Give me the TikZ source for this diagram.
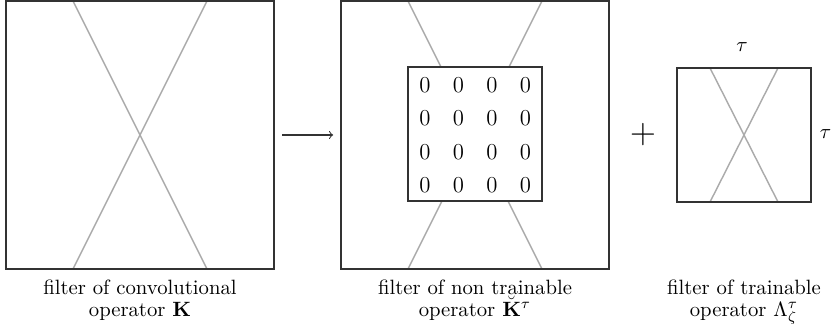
\documentclass[tikz,border=0pt]{standalone}
\usepackage{amsmath,amssymb}
\usetikzlibrary{fit}
\begin{document}
\begin{tikzpicture}[x=0.4831pt,y=-0.4831pt,
  boxnode/.style={draw=black!80,line width=0.6pt,inner sep=0pt,outer sep=0pt},
  xline/.style={draw=black!33,line width=0.7pt},
  zero/.style={inner sep=0pt,font=\fontsize{11pt}{13pt}\selectfont},
  caption/.style={align=center,inner sep=0pt,anchor=north,font=\fontsize{10pt}{10.4pt}\selectfont}]
\useasboundingbox (0,0) rectangle (832,328);
% box 1
\draw[xline] (73,1) -- (207,269);
\draw[xline] (207,1) -- (73,269);
\node[boxnode,fit={(6,1) (274,269)}] (K) {};
% box 2
\draw[xline] (408,1) -- (542,269);
\draw[xline] (542,1) -- (408,269);
\node[boxnode,fit={(341,1) (609,269)}] (Kb) {};
\node[boxnode,fill=white,fit={(408,67) (542,201)}] (Z) {};
\foreach \r/\yy in {1/85,2/118.5,3/152,4/185.5}{
  \foreach \c/\xx in {1/425,2/458.5,3/492,4/525.5}{
    \node[zero] (z\r\c) at (\xx,\yy) {0};
  }
}
% arrow
\draw[->,line width=0.5pt,draw=black!80,shorten <=4pt,shorten >=3.8pt] (K.east) -- (Kb.west);
% plus
\node[inner sep=0pt,font=\LARGE] (plus) at (643,134.5) {$+$};
% box 3
\draw[xline] (710,68) -- (778,202);
\draw[xline] (778,68) -- (710,202);
\node[boxnode,fit={(677,68) (811,202)}] (L) {};
\node[inner sep=0pt] (tautop) at (742,47) {$\tau$};
\node[inner sep=0pt] (tauright) at (825.5,134) {$\tau$};
% captions
\node[caption] (c1) at (140,279.5) {filter of convolutional\\operator $\mathbf{K}$};
\node[caption] (c2) at (475,279.5) {filter of non trainable\\operator $\breve{\mathbf{K}}^{\tau}$};
\node[caption] (c3) at (744,279.5) {filter of trainable\\operator $\Lambda_{\zeta}^{\tau}$};
\end{tikzpicture}
\end{document}
